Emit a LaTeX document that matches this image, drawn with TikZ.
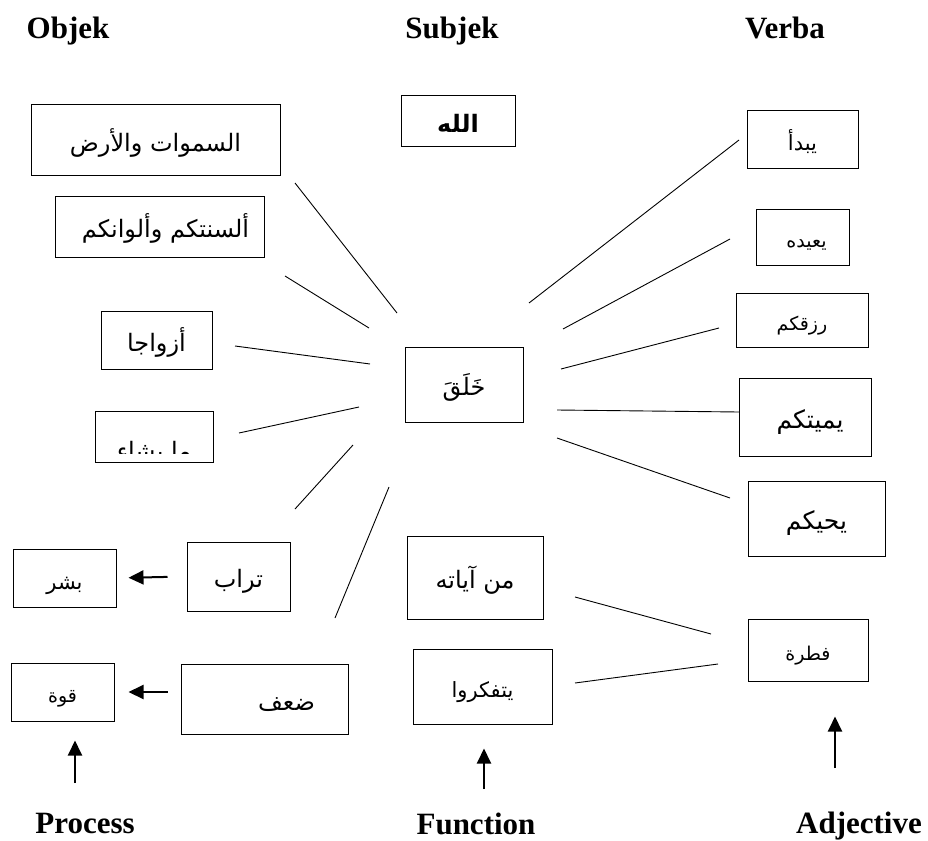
\documentclass[tikz,border=0pt]{standalone}
\usepackage{fontspec}
\setmainfont{Liberation Serif}
\newfontfamily\arabicfont[Script=Arabic]{DejaVu Sans}
\TeXXeTstate=1
\usetikzlibrary{arrows.meta}
\newcommand{\arb}[1]{{\arabicfont\beginR #1\endR}}

\begin{document}
\begin{tikzpicture}[x=1pt,y=-1pt]
                \tikzstyle{every node}+=[inner sep=0pt]
                \tikzstyle{kotak}=[draw=black, line width=1pt, text height=22pt, text depth=0pt, font=\fontsize{24}{28}\selectfont]
                \tikzstyle{besar}=[font=\fontsize{25}{30}\selectfont]
                \tikzstyle{sedang}=[font=\fontsize{21}{25}\selectfont]
                \tikzstyle{kecil}=[text height=20pt, font=\fontsize{19}{23}\selectfont]
                \tikzstyle{judul}=[anchor=base, font=\fontsize{31}{36}\selectfont\bfseries]
                \tikzstyle{garis}=[black, line width=0.9pt]
                \tikzstyle{panah}=[black, line width=2pt, -{Triangle[length=15pt,width=14pt]}]
                \useasboundingbox (0,0) rectangle (928,840);
                % judul kolom
                \node [judul] (objek) at (68,39) {Objek};
                \node [judul] (subjek) at (452,39) {Subjek};
                \node [judul] (verba) at (785,39) {Verba};
                \node [judul] (process) at (85,833) {Process};
                \node [judul] (function) at (476,834) {Function};
                \node [judul] (adjective) at (859,833) {Adjective};
                % objek
                \node [kotak, minimum width=249, minimum height=70] (samawat) at (155.5,140) {\arb{السموات والأرض}};
                \node [kotak, minimum width=209, minimum height=61] (alsinah) at (159.5,226.5) {\hspace{12pt}\arb{ألسنتكم وألوانكم}};
                \node [kotak, minimum width=111, minimum height=58] (azwaj) at (156.5,340) {\arb{أزواجا}};
                \node [kotak, minimum width=118, minimum height=51] (masya) at (154,436.5) {};
                \begin{scope}
                \clip (95,411) rectangle (213,453);
                \node [kotak, draw=none, anchor=base] (masyatext) at (154,459) {\arb{ما يشاء}};
                \end{scope}
                \node [kotak, minimum width=103, minimum height=69] (turab) at (238.5,576.5) {\arb{تراب}};
                \node [kotak, sedang, minimum width=103, minimum height=58] (basyar) at (64.5,578) {\arb{بشر}};
                \node [kotak, minimum width=167, minimum height=70] (dhaf) at (264.5,699) {\hspace{44pt}\arb{ضعف}};
                \node [kotak, kecil, minimum width=103, minimum height=58] (quwwah) at (62.5,692) {\arb{قوة}};
                % subjek
                \node [kotak, minimum width=114, minimum height=50] (allah) at (458,121) {\bfseries\arb{الله}};
                \node [kotak, minimum width=118, minimum height=75] (khalaq) at (464,384.5) {\arb{خَلَقَ}};
                \node [kotak, minimum width=136, minimum height=83] (ayat) at (475,577.5) {\arb{من آياته}};
                \node [kotak, sedang, minimum width=139, minimum height=75] (tafakkur) at (482.5,686.5) {\arb{يتفكروا}};
                % verba
                \node [kotak, sedang, minimum width=111, minimum height=57] (yabda) at (802.5,139.5) {\arb{يبدأ}};
                \node [kotak, kecil, minimum width=93, minimum height=56] (yuid) at (802.5,237) {\hspace{8pt}\arb{يعيده}};
                \node [kotak, kecil, minimum width=132, minimum height=54] (rizq) at (802,320) {\arb{رزقكم}};
                \node [kotak, besar, minimum width=132, minimum height=78] (yumit) at (805,417) {\hspace{10pt}\arb{يميتكم}};
                \node [kotak, besar, minimum width=137, minimum height=75] (yuhyi) at (816.5,518.5) {\arb{يحيكم}};
                \node [kotak, kecil, minimum width=120, minimum height=62] (fitrah) at (808,650) {\arb{فطرة}};
                % garis ke khalaq
                \coordinate (o1) at (295,183); \coordinate (k1) at (397,313);
                \coordinate (o2) at (285,276); \coordinate (k2) at (369,328);
                \coordinate (o3) at (235,346); \coordinate (k3) at (370,364);
                \coordinate (o4) at (239,433); \coordinate (k4) at (359,407);
                \coordinate (o5) at (295,509); \coordinate (k5) at (353,445);
                \coordinate (o6) at (335,618); \coordinate (k6) at (389,487);
                \draw [garis] (o1) -- (k1);
                \draw [garis] (o2) -- (k2);
                \draw [garis] (o3) -- (k3);
                \draw [garis] (o4) -- (k4);
                \draw [garis] (o5) -- (k5);
                \draw [garis] (o6) -- (k6);
                \coordinate (k7) at (529,303); \coordinate (v1) at (739,140);
                \coordinate (k8) at (563,329); \coordinate (v2) at (730,239);
                \coordinate (k9) at (561,369); \coordinate (v3) at (719,328);
                \coordinate (k10) at (557,410); \coordinate (v4) at (739,412);
                \coordinate (k11) at (557,438); \coordinate (v5) at (730,498);
                \draw [garis] (k7) -- (v1);
                \draw [garis] (k8) -- (v2);
                \draw [garis] (k9) -- (v3);
                \draw [garis] (k10) -- (v4);
                \draw [garis] (k11) -- (v5);
                % garis ke fitrah
                \coordinate (f1) at (575,597); \coordinate (a1) at (711,634);
                \coordinate (f2) at (575,683); \coordinate (a2) at (718,664);
                \draw [garis] (f1) -- (a1);
                \draw [garis] (f2) -- (a2);
                % panah
                \draw [panah, shorten <=19pt, shorten >=12pt] (turab.west) -- (basyar.east);
                \draw [panah, shorten <=13pt, shorten >=14pt] (dhaf.west |- quwwah.east) -- (quwwah.east);
                \coordinate (p1) at (75,783);
                \coordinate (p2) at (484,789);
                \coordinate (p3) at (835,768);
                \draw [panah, shorten >=19pt] (p1) -- (p1 |- quwwah.south);
                \draw [panah, shorten >=24pt] (p2) -- (p2 |- tafakkur.south);
                \draw [panah, shorten >=35pt] (p3) -- (p3 |- fitrah.south);
\end{tikzpicture}
\end{document}
